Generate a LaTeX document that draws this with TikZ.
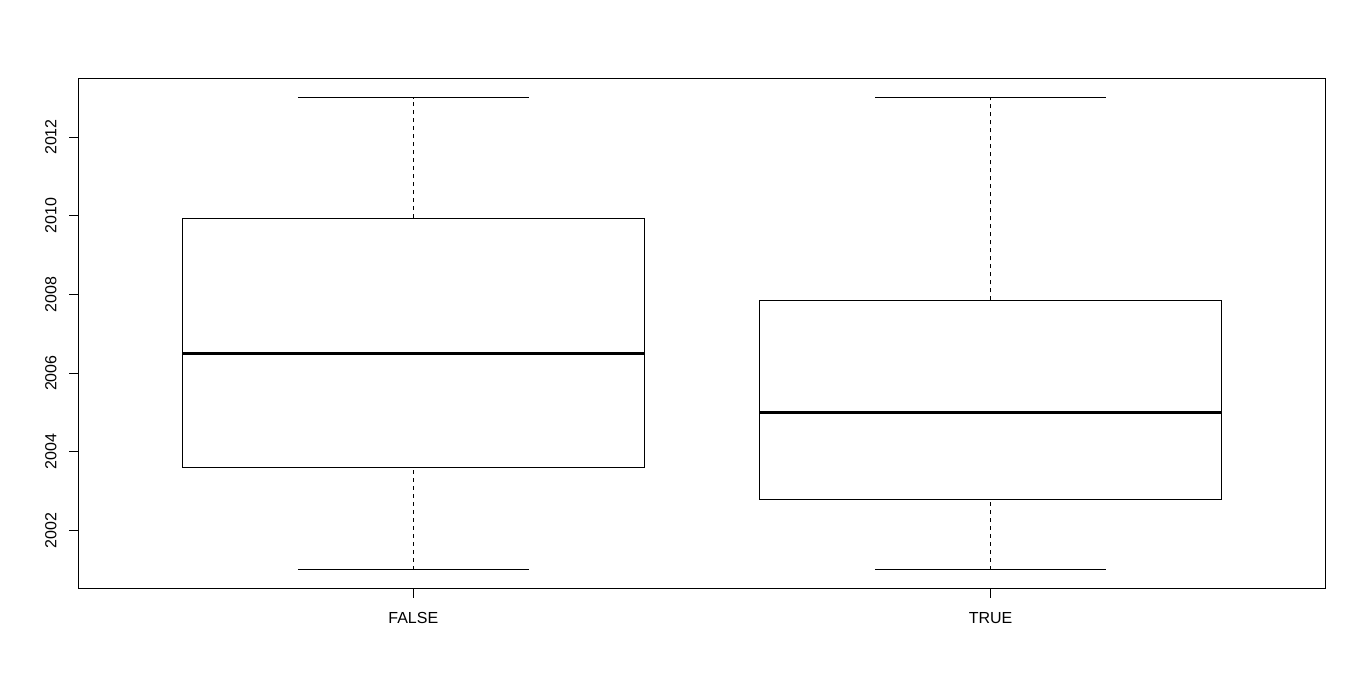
\documentclass[tikz,border=0pt]{standalone}
\usepackage{fontspec}
\setmainfont{Liberation Sans}
\begin{document}
\begin{tikzpicture}[x=.75pt,y=.75pt,font=\fontsize{12}{14}\selectfont,line width=.75pt,
    whisk/.style={dash pattern=on 3pt off 3pt},
    medline/.style={line width=2.25pt}]
    \useasboundingbox (0,0) rectangle (1366,686);
    \begin{scope}[shift={(-164,76.8)},x=432.975pt,y=29.51pt]
        \draw (0.42,0.52) rectangle (2.58,13.48);
        \foreach \yr in {2002,2004,...,2012}{
            \draw (0.42,\yr-2000) -- ++(-7pt,0);
            \node[rotate=90,anchor=base,inner sep=0pt] (y\yr) at ([xshift=-16.5pt]0.42,\yr-2000) {\yr};
        }
        \foreach \g/\lo/\qa/\md/\qb/\hi/\nm in {1/1/3.61/6.5/9.94/13/FALSE,2/1/2.79/5.0/7.85/13/TRUE}{
            \draw (\g,0.52) -- ++(0,-7pt);
            \node[anchor=base,inner sep=0pt] (lb\nm) at ([yshift=-25.8pt]\g,0.52) {\nm};
            \draw[whisk] (\g,\lo) -- (\g,\qa) (\g,\qb) -- (\g,\hi);
            \draw (\g-.2,\lo) -- (\g+.2,\lo) (\g-.2,\hi) -- (\g+.2,\hi);
            \draw (\g-.4,\qa) rectangle (\g+.4,\qb);
            \draw[medline] (\g-.4,\md) -- (\g+.4,\md);
        }
    \end{scope}
\end{tikzpicture}
\end{document}
